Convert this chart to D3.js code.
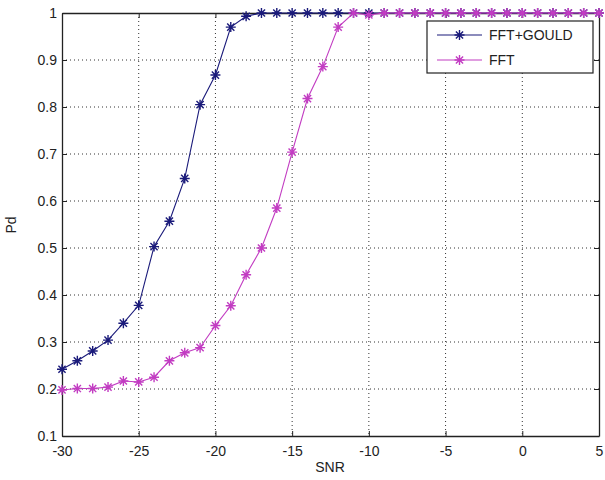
<!DOCTYPE html>
<html><head><meta charset="utf-8">
<script src="https://cdn.jsdelivr.net/npm/d3@7"></script>
<style>body{margin:0;background:#fff}svg{display:block}</style>
</head><body>
<svg id="c" width="605" height="480"></svg>
<script>
const snr = d3.range(-30, 6, 1);
const gould = [0.242,0.26,0.281,0.304,0.34,0.378,0.503,0.557,0.648,0.805,0.868,0.97,0.993,1,1,1,1,1,1,1,1,1,1,1,1,1,1,1,1,1,1,1,1,1,1,1];
const fft = [0.198,0.201,0.201,0.204,0.217,0.215,0.225,0.26,0.277,0.288,0.335,0.377,0.443,0.5,0.585,0.704,0.818,0.886,0.97,1,0.996,1,1,1,1,1,1,1,1,1,1,1,1,1,1,1];
const xTicks = [-30,-25,-20,-15,-10,-5,0,5];
const yTicks = [0.1,0.2,0.3,0.4,0.5,0.6,0.7,0.8,0.9,1];
const seriesNames = ["FFT+GOULD","FFT"];
const colors = ["#1a1a7a","#c23cc2"];

const svg = d3.select("#c");
const L=62, R=599, T=13, B=436;
const x = d3.scaleLinear().domain([-30,5]).range([L,R]);
const y = d3.scaleLinear().domain([0.1,1]).range([B,T]);
const font = "Liberation Sans, Arial, sans-serif";

// grid
const g = svg.append("g");
g.selectAll(".gx").data(xTicks.slice(1,-1)).join("line")
  .attr("x1",d=>x(d)).attr("x2",d=>x(d)).attr("y1",T).attr("y2",B)
  .attr("stroke","#333").attr("stroke-width",1).attr("stroke-dasharray","1,3");
g.selectAll(".gy").data(yTicks.slice(1,-1)).join("line")
  .attr("y1",d=>y(d)).attr("y2",d=>y(d)).attr("x1",L).attr("x2",R)
  .attr("stroke","#333").attr("stroke-width",1).attr("stroke-dasharray","1,3");

// axes
const ax = svg.append("g").attr("transform",`translate(0,${B})`)
  .call(d3.axisBottom(x).tickValues(xTicks).tickFormat(d=>String(d)).tickSizeInner(-5).tickSizeOuter(0));
const axT = svg.append("g").attr("transform",`translate(0,${T})`)
  .call(d3.axisTop(x).tickValues(xTicks).tickFormat("").tickSizeInner(-5).tickSizeOuter(0));
const ay = svg.append("g").attr("transform",`translate(${L},0)`)
  .call(d3.axisLeft(y).tickValues(yTicks).tickFormat(d=>d===1?"1":d.toFixed(1)).tickSizeInner(-5).tickSizeOuter(0));
const ayR = svg.append("g").attr("transform",`translate(${R},0)`)
  .call(d3.axisRight(y).tickValues(yTicks).tickFormat("").tickSizeInner(-5).tickSizeOuter(0));
[ax,axT,ay,ayR].forEach(a=>{
  a.select(".domain").attr("stroke","#222").attr("stroke-width",1.3);
  a.selectAll(".tick line").attr("stroke","#222");
  a.selectAll("text").attr("font-family",font).attr("font-size",14).attr("fill","#222");
});
ax.selectAll("text").attr("dy","0").attr("y",20);
ay.selectAll("text").attr("x",-5);

// series
const line = d3.line().x((d,i)=>x(snr[i])).y(d=>y(d));
function star(sel, c){
  const s=5;
  sel.each(function(d,i){
    const gg=d3.select(this);
    const cx=x(snr[i]), cy=y(d);
    const p=`M${cx-s},${cy}L${cx+s},${cy}M${cx},${cy-s}L${cx},${cy+s}M${cx-s*0.72},${cy-s*0.72}L${cx+s*0.72},${cy+s*0.72}M${cx-s*0.72},${cy+s*0.72}L${cx+s*0.72},${cy-s*0.72}`;
    gg.append("path").attr("d",p).attr("stroke",c).attr("stroke-width",1.4).attr("fill","none");
  });
}
[gould,fft].forEach((data,k)=>{
  svg.append("path").datum(data).attr("d",line).attr("fill","none")
    .attr("stroke",colors[k]).attr("stroke-width",1.1);
  svg.append("g").selectAll("g").data(data).join("g").call(star,colors[k]);
});

// legend
const lg = svg.append("g");
lg.append("rect").attr("x",427).attr("y",21).attr("width",166).attr("height",52)
  .attr("fill","#fff").attr("stroke","#222").attr("stroke-width",1.2);
seriesNames.forEach((n,k)=>{
  const yy = 35+k*25;
  lg.append("line").attr("x1",437).attr("x2",482).attr("y1",yy).attr("y2",yy).attr("stroke",colors[k]).attr("stroke-width",1.1);
  const sx=459.5, s=5;
  lg.append("path").attr("d",`M${sx-s},${yy}L${sx+s},${yy}M${sx},${yy-s}L${sx},${yy+s}M${sx-3.6},${yy-3.6}L${sx+3.6},${yy+3.6}M${sx-3.6},${yy+3.6}L${sx+3.6},${yy-3.6}`)
    .attr("stroke",colors[k]).attr("stroke-width",1.4);
  lg.append("text").attr("x",489).attr("y",yy+5).text(n)
    .attr("font-family",font).attr("font-size",14).attr("fill","#222");
});

// labels
svg.append("text").attr("x",330).attr("y",472).attr("text-anchor","middle")
  .attr("font-family",font).attr("font-size",14).attr("fill","#222").text("SNR");
svg.append("text").attr("transform","translate(16,225) rotate(-90)").attr("text-anchor","middle")
  .attr("font-family",font).attr("font-size",14).attr("fill","#222").text("Pd");
</script>
</body></html>
